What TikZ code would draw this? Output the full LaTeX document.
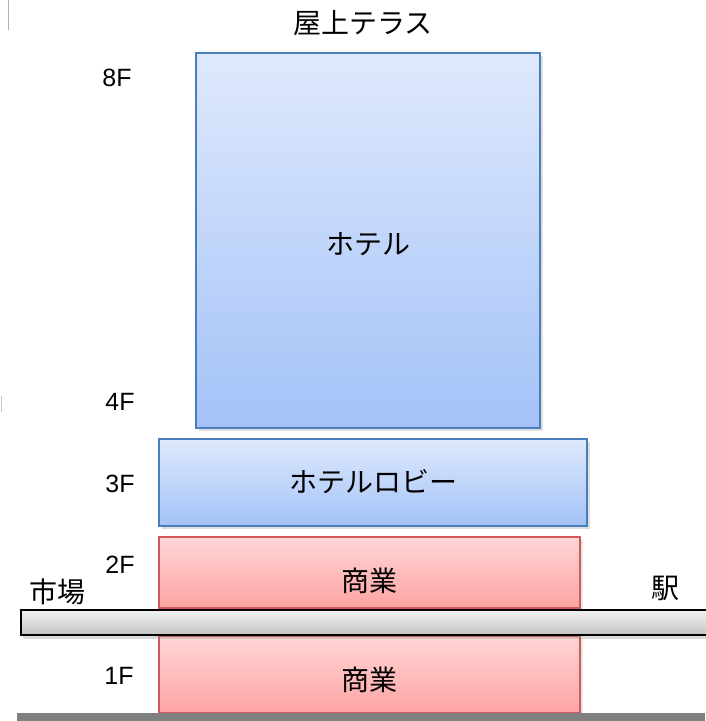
\documentclass[tikz,border=0pt]{standalone}
\usepackage{fontspec}
\setmainfont{Noto Sans CJK JP}
\newfontfamily\latinfont{Liberation Sans}
\usetikzlibrary{shadows}
\definecolor{bluetop}{HTML}{DFE9FD}
\definecolor{bluebot}{HTML}{A3C2F7}
\definecolor{blueline}{HTML}{4A7EBB}
\definecolor{redtop}{HTML}{FFD6D6}
\definecolor{redbot}{HTML}{FFA3A3}
\definecolor{redline}{HTML}{D05A5A}
\definecolor{greytop}{HTML}{F2F2F2}
\definecolor{greybot}{HTML}{C4C4C4}
\begin{document}
\begin{tikzpicture}[x=1pt,y=-1pt,
  lbl/.style={font=\fontsize{28}{32}\selectfont, inner sep=0pt},
  flbl/.style={font=\latinfont\fontsize{25}{30}\selectfont, inner sep=0pt},
  hotelbox/.style={draw=blueline, line width=1.2pt, top color=bluetop, bottom color=bluebot,
    drop shadow={shadow xshift=3pt, shadow yshift=-3pt, opacity=0.25}},
  shopbox/.style={draw=redline, line width=1.2pt, top color=redtop, bottom color=redbot,
    drop shadow={shadow xshift=3pt, shadow yshift=-3pt, opacity=0.2}},
  groundbar/.style={draw=black, line width=1.3pt, top color=greytop, bottom color=greybot,
    drop shadow={shadow xshift=2pt, shadow yshift=-4pt, opacity=0.3}}]
\useasboundingbox (0,0) rectangle (705,721);
% faint edge lines
\draw[gray!60, line width=0.8pt] (8,0) -- (8,30);
\draw[gray!40, line width=0.6pt] (1,396) -- (1,412);
% boxes
\path[hotelbox] (196,53) rectangle (540,428);
\path[hotelbox] (159,439) rectangle (587,526);
\path[shopbox] (159,537) rectangle (580,608);
\path[shopbox] (159,636) rectangle (580,713);
\path[groundbar] (21,610) rectangle (720,635);
\fill[black!50] (17,713) rectangle (705,721);
% labels
\node[lbl] (terrace) at (363,23) {屋上テラス};
\node[flbl] (f8) at (117,78) {8F};
\node[lbl] (hotel) at (368,244) {ホテル};
\node[flbl] (f4) at (120,402) {4F};
\node[flbl] (f3) at (120,484) {3F};
\node[lbl] (lobby) at (373,482) {ホテルロビー};
\node[flbl] (f2) at (120,565) {2F};
\node[lbl] (shop2) at (369,581) {商業};
\node[lbl] (market) at (57,592) {市場};
\node[lbl] (station) at (665,588) {駅};
\node[flbl] (f1) at (119,676) {1F};
\node[lbl] (shop1) at (369,680) {商業};
\end{tikzpicture}
\end{document}
